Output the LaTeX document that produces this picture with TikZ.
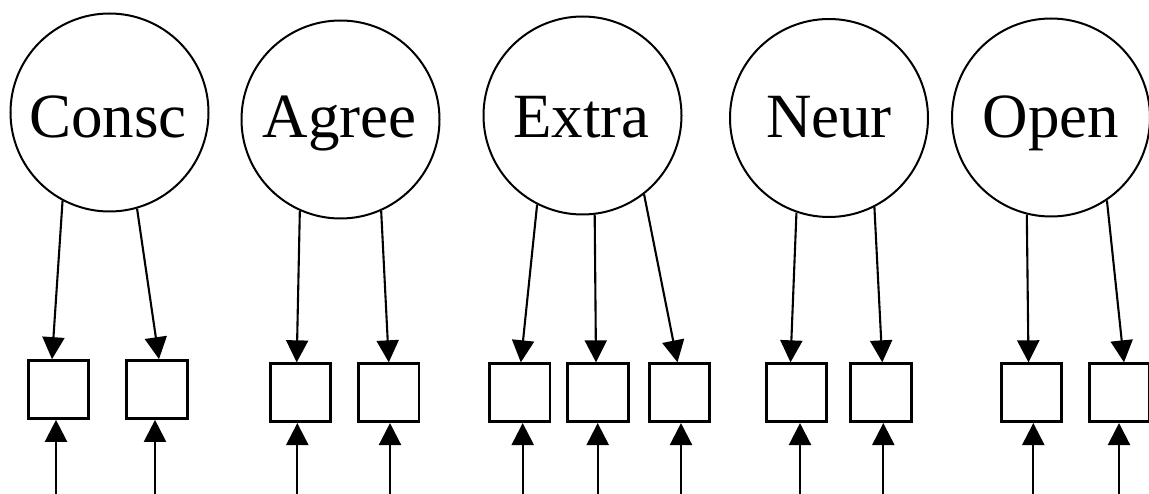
\documentclass[tikz,border=0pt]{standalone}
\usepackage{fontspec}
\setmainfont{Liberation Serif}
\usetikzlibrary{arrows.meta}
\begin{document}
\begin{tikzpicture}[x=1pt,y=-1pt,
  latent/.style={circle,draw,line width=2pt,minimum size=198pt,inner sep=0pt},
  lbl/.style={font=\fontsize{63}{63}\selectfont,anchor=base,inner sep=0pt},
  item/.style={rectangle,draw,line width=2.7pt,minimum width=60.5pt,minimum height=58pt,inner sep=0pt},
  tip/.style={-{Triangle[length=22pt,width=22pt]}},
  load/.style={tip,line width=2.1pt},
  err/.style={tip,line width=2.3pt}]
\useasboundingbox (0,0) rectangle (1149,494);

% latent factors
\node[latent] (consc) at (109.5,112.5) {};
\node[latent] (agree) at (340.5,119.5) {};
\node[latent] (extra) at (582.5,115.5) {};
\node[latent] (neur)  at (829,118) {};
\node[latent] (open)  at (1051,117.5) {};
\node[lbl] (consc-t) at (108,138) {Consc};
\node[lbl] (agree-t) at (339.5,138) {Agree};
\node[lbl] (extra-t) at (581.5,138) {Extra};
\node[lbl] (neur-t)  at (829,138) {Neur};
\node[lbl] (open-t)  at (1051,138) {Open};

% observed indicators
\node[item] (c1) at (58.5,389.5) {};
\node[item] (c2) at (157,389.5) {};
\node[item] (a1) at (300.5,392.7) {};
\node[item] (a2) at (388.8,392.7) {};
\node[item] (x1) at (519.8,392.7) {};
\node[item] (x2) at (598,392.7) {};
\node[item] (x3) at (679.5,392.7) {};
\node[item] (n1) at (796.5,392.7) {};
\node[item] (n2) at (881,392.7) {};
\node[item] (o1) at (1031.5,392.7) {};
\node[item] (o2) at (1119.5,392.7) {};

% loadings
\draw[load] (consc.242.5) -- ([xshift=-6.5pt]c1.north);
\draw[load] (consc.286.5) -- ([xshift=2pt]c2.north);
\draw[load] (agree.246.3) -- ([xshift=-3.8pt]a1.north);
\draw[load] (agree.294.8) -- (a2.north);
\draw[load] (extra.243.7) -- ([xshift=1pt]x1.north);
\draw[load] (extra.277.1) -- ([xshift=-2pt]x2.north);
\draw[load] (extra.308.6) -- ([xshift=-2pt]x3.north);
\draw[load] (neur.251.4) -- ([xshift=-6pt]n1.north);
\draw[load] (neur.297.1) -- ([xshift=1.3pt]n2.north);
\draw[load] (open.256.6) -- ([xshift=-3pt]o1.north);
\draw[load] (open.304.8) -- ([xshift=4.5pt]o2.north);

% residual terms
\coordinate (ec1) at (56,497);
\coordinate (ec2) at (155,497);
\coordinate (ea1) at (297.3,497);
\coordinate (ea2) at (390,497);
\coordinate (ex1) at (522.7,497);
\coordinate (ex2) at (597.7,497);
\coordinate (ex3) at (681,497);
\coordinate (en1) at (800,497);
\coordinate (en2) at (883.3,497);
\coordinate (eo1) at (1033.3,497);
\coordinate (eo2) at (1119,497);
\draw[err] (ec1) -- (c1.south -| ec1);
\draw[err] (ec2) -- (c2.south -| ec2);
\draw[err] (ea1) -- (a1.south -| ea1);
\draw[err] (ea2) -- (a2.south -| ea2);
\draw[err] (ex1) -- (x1.south -| ex1);
\draw[err] (ex2) -- (x2.south -| ex2);
\draw[err] (ex3) -- (x3.south -| ex3);
\draw[err] (en1) -- (n1.south -| en1);
\draw[err] (en2) -- (n2.south -| en2);
\draw[err] (eo1) -- (o1.south -| eo1);
\draw[err] (eo2) -- (o2.south -| eo2);
\end{tikzpicture}
\end{document}
